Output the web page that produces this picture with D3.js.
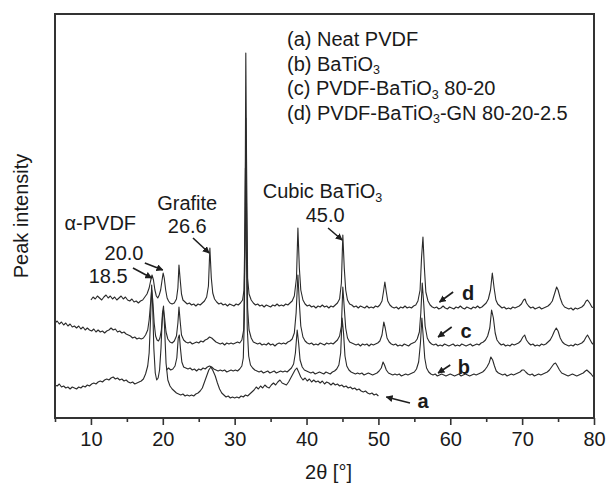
<!DOCTYPE html>
<html><head><meta charset="utf-8">
<script src="https://cdn.jsdelivr.net/npm/d3@7"></script>
<style>body{margin:0;background:#fff}svg{display:block}text{font-family:"Liberation Sans",Arial,sans-serif;fill:#1a1a1a}</style>
</head><body><svg id="c" width="611" height="484"></svg>
<script>
// ---- data: [2theta, intensity (a.u., curves stacked with offsets)] ----
const curveD = [[10.0,118],[10.3,121],[10.6,119],[10.9,122],[11.2,120],[11.5,118],[11.8,121],[12.1,123],[12.4,120],[12.7,122],[13.0,119],[13.3,121],[13.6,118],[13.9,120],[14.2,122],[14.5,119],[14.8,121],[15.1,118],[15.4,117],[15.7,119],[16.0,116],[16.3,117],[16.6,115],[16.9,117],[17.2,118],[17.5,121],[17.8,124],[18.1,130],[18.3,137],[18.5,143],[18.7,138],[18.9,128],[19.1,122],[19.3,120],[19.5,123],[19.7,128],[19.9,138],[20.05,145],[20.2,140],[20.4,128],[20.6,120],[20.8,117],[21.0,115],[21.3,114],[21.6,115],[21.9,119],[22.1,130],[22.25,153],[22.4,140],[22.6,124],[22.8,118],[23.1,116],[23.4,114],[23.7,115],[24.0,113],[24.3,114],[24.6,112],[24.9,114],[25.2,113],[25.5,115],[25.8,117],[26.1,121],[26.35,132],[26.55,170],[26.75,140],[26.95,125],[27.2,119],[27.5,116],[27.8,114],[28.1,115],[28.4,113],[28.7,114],[29.0,112],[29.3,114],[29.6,113],[29.9,112],[30.2,114],[30.5,113],[30.8,115],[31.1,118],[31.3,128],[31.45,200],[31.55,365],[31.65,260],[31.8,140],[32.0,124],[32.3,118],[32.6,115],[32.9,113],[33.2,114],[33.5,112],[33.8,113],[34.1,111],[34.4,113],[34.7,112],[35.0,111],[35.3,113],[35.6,112],[35.9,114],[36.2,112],[36.5,113],[36.8,112],[37.1,114],[37.4,113],[37.7,115],[38.0,117],[38.3,122],[38.6,140],[38.8,190],[39.0,150],[39.2,128],[39.5,118],[39.8,114],[40.1,112],[40.4,113],[40.7,111],[41.0,112],[41.3,110],[41.6,112],[41.9,111],[42.2,113],[42.5,111],[42.8,112],[43.1,110],[43.4,112],[43.7,111],[44.0,113],[44.3,115],[44.6,119],[44.85,135],[45.05,183],[45.25,150],[45.45,128],[45.7,118],[46.0,114],[46.3,113],[46.6,111],[46.9,112],[47.2,110],[47.5,112],[47.8,111],[48.1,110],[48.4,112],[48.7,110],[49.0,111],[49.3,110],[49.6,112],[49.9,111],[50.2,113],[50.5,117],[50.7,126],[50.9,136],[51.1,126],[51.3,117],[51.6,113],[51.9,111],[52.2,110],[52.5,111],[52.8,109],[53.1,111],[53.4,110],[53.7,112],[54.0,110],[54.3,111],[54.6,110],[54.9,112],[55.2,113],[55.5,117],[55.8,128],[56.0,160],[56.2,181],[56.4,150],[56.6,126],[56.9,117],[57.2,113],[57.5,111],[57.8,110],[58.1,111],[58.4,109],[58.7,110],[59.0,112],[59.3,110],[59.6,109],[59.9,111],[60.2,110],[60.5,109],[60.8,111],[61.1,110],[61.4,112],[61.7,110],[62.0,109],[62.3,111],[62.6,110],[62.9,109],[63.2,111],[63.5,110],[63.8,112],[64.1,110],[64.4,111],[64.7,113],[65.0,115],[65.3,119],[65.6,128],[65.85,145],[66.1,130],[66.35,118],[66.6,114],[66.9,112],[67.2,110],[67.5,111],[67.8,109],[68.1,110],[68.4,109],[68.7,111],[69.0,110],[69.3,111],[69.6,112],[69.9,114],[70.2,118],[70.4,119],[70.6,115],[70.9,112],[71.2,110],[71.5,111],[71.8,109],[72.1,110],[72.4,111],[72.7,109],[73.0,110],[73.3,111],[73.6,112],[73.9,114],[74.2,117],[74.5,124],[74.8,131],[75.0,128],[75.3,120],[75.6,114],[75.9,111],[76.2,110],[76.5,109],[76.8,110],[77.1,108],[77.4,110],[77.7,109],[78.0,110],[78.3,111],[78.6,113],[78.9,117],[79.1,118],[79.4,115],[79.7,111],[80.0,110]];

const curveC = [[5.0,95],[5.3,97],[5.6,94],[5.9,96],[6.2,93],[6.5,95],[6.8,92],[7.1,94],[7.4,91],[7.7,92],[8.0,90],[8.3,92],[8.6,89],[8.9,91],[9.2,88],[9.5,90],[9.8,88],[10.1,87],[10.4,89],[10.7,86],[11.0,88],[11.3,86],[11.6,87],[11.9,85],[12.2,87],[12.5,88],[12.8,90],[13.1,88],[13.4,89],[13.7,86],[14.0,87],[14.3,85],[14.6,86],[14.9,84],[15.2,83],[15.5,82],[15.8,80],[16.1,81],[16.4,79],[16.7,80],[17.0,79],[17.3,80],[17.6,83],[17.9,88],[18.1,98],[18.3,115],[18.45,128],[18.6,118],[18.8,95],[19.0,82],[19.2,78],[19.4,77],[19.6,80],[19.8,88],[20.0,105],[20.1,108],[20.25,100],[20.45,86],[20.7,79],[21.0,76],[21.3,75],[21.6,77],[21.9,82],[22.1,95],[22.25,111],[22.4,98],[22.6,83],[22.9,78],[23.2,76],[23.5,75],[23.8,76],[24.1,74],[24.4,75],[24.7,76],[25.0,75],[25.3,77],[25.6,76],[25.9,78],[26.2,79],[26.5,81],[26.8,80],[27.1,78],[27.4,76],[27.7,75],[28.0,74],[28.3,75],[28.6,73],[28.9,75],[29.2,74],[29.5,75],[29.8,74],[30.1,75],[30.4,76],[30.7,75],[31.0,78],[31.25,88],[31.45,180],[31.55,300],[31.65,210],[31.8,110],[32.0,88],[32.3,80],[32.6,76],[32.9,75],[33.2,74],[33.5,75],[33.8,73],[34.1,74],[34.4,73],[34.7,75],[35.0,73],[35.3,74],[35.6,72],[35.9,74],[36.2,75],[36.5,74],[36.8,75],[37.1,74],[37.4,76],[37.7,77],[38.0,79],[38.3,85],[38.55,105],[38.8,143],[39.0,115],[39.2,92],[39.5,81],[39.8,77],[40.1,75],[40.4,74],[40.7,75],[41.0,73],[41.3,74],[41.6,73],[41.9,75],[42.2,74],[42.5,73],[42.8,75],[43.1,74],[43.4,75],[43.7,74],[44.0,76],[44.3,78],[44.6,82],[44.85,92],[45.05,131],[45.25,110],[45.45,90],[45.7,80],[46.0,76],[46.3,75],[46.6,74],[46.9,73],[47.2,74],[47.5,72],[47.8,74],[48.1,73],[48.4,74],[48.7,72],[49.0,74],[49.3,73],[49.6,74],[49.9,75],[50.2,77],[50.5,83],[50.75,96],[50.95,90],[51.2,80],[51.5,76],[51.8,74],[52.1,73],[52.4,74],[52.7,72],[53.0,73],[53.3,72],[53.6,74],[53.9,73],[54.2,72],[54.5,74],[54.8,75],[55.1,76],[55.4,79],[55.7,86],[55.9,105],[56.1,135],[56.3,115],[56.5,92],[56.8,80],[57.1,76],[57.4,74],[57.7,73],[58.0,74],[58.3,72],[58.6,73],[58.9,72],[59.2,74],[59.5,73],[59.8,72],[60.1,73],[60.4,74],[60.7,72],[61.0,73],[61.3,72],[61.6,74],[61.9,73],[62.2,72],[62.5,73],[62.8,74],[63.1,72],[63.4,73],[63.7,74],[64.0,73],[64.3,75],[64.6,76],[64.9,78],[65.2,82],[65.5,90],[65.75,108],[66.0,100],[66.25,85],[66.5,78],[66.8,75],[67.1,73],[67.4,74],[67.7,72],[68.0,73],[68.3,72],[68.6,74],[68.9,73],[69.2,74],[69.5,75],[69.8,77],[70.1,81],[70.35,83],[70.6,78],[70.9,75],[71.2,73],[71.5,74],[71.8,72],[72.1,73],[72.4,72],[72.7,74],[73.0,73],[73.3,74],[73.6,76],[73.9,78],[74.2,82],[74.5,87],[74.75,90],[75.0,87],[75.3,80],[75.6,76],[75.9,74],[76.2,73],[76.5,72],[76.8,73],[77.1,72],[77.4,74],[77.7,73],[78.0,74],[78.3,75],[78.6,77],[78.9,81],[79.1,83],[79.4,79],[79.7,75],[80.0,73]];

const curveB = [[20.5,48],[20.8,50],[21.1,48],[21.4,49],[21.7,52],[21.95,60],[22.15,80],[22.3,83],[22.45,70],[22.65,56],[22.9,51],[23.2,50],[23.5,49],[23.8,50],[24.1,48],[24.4,49],[24.7,47],[25.0,49],[25.3,48],[25.6,50],[25.9,49],[26.2,51],[26.5,52],[26.8,51],[27.1,49],[27.4,48],[27.7,47],[28.0,48],[28.3,47],[28.6,48],[28.9,46],[29.2,47],[29.5,48],[29.8,47],[30.1,48],[30.4,47],[30.7,49],[31.0,52],[31.2,60],[31.35,100],[31.5,250],[31.6,190],[31.75,90],[31.95,62],[32.2,53],[32.5,50],[32.8,48],[33.1,47],[33.4,46],[33.7,47],[34.0,45],[34.3,46],[34.6,47],[34.9,45],[35.2,46],[35.5,47],[35.8,45],[36.1,46],[36.4,47],[36.7,46],[37.0,47],[37.3,46],[37.6,48],[37.9,50],[38.2,54],[38.45,65],[38.7,88],[38.9,75],[39.1,58],[39.4,51],[39.7,48],[40.0,47],[40.3,46],[40.6,45],[40.9,46],[41.2,44],[41.5,45],[41.8,46],[42.1,45],[42.4,44],[42.7,46],[43.0,45],[43.3,44],[43.6,46],[43.9,47],[44.2,49],[44.5,53],[44.75,65],[44.95,100],[45.15,85],[45.35,62],[45.6,52],[45.9,48],[46.2,46],[46.5,45],[46.8,44],[47.1,45],[47.4,44],[47.7,45],[48.0,43],[48.3,44],[48.6,45],[48.9,44],[49.2,43],[49.5,44],[49.8,45],[50.1,47],[50.4,50],[50.65,56],[50.85,53],[51.1,48],[51.4,45],[51.7,44],[52.0,43],[52.3,44],[52.6,43],[52.9,44],[53.2,42],[53.5,43],[53.8,44],[54.1,43],[54.4,44],[54.7,45],[55.0,46],[55.3,49],[55.6,56],[55.85,75],[56.05,100],[56.25,80],[56.45,60],[56.7,50],[57.0,46],[57.3,44],[57.6,43],[57.9,44],[58.2,42],[58.5,43],[58.8,44],[59.1,43],[59.4,42],[59.7,43],[60.0,44],[60.3,43],[60.6,42],[60.9,43],[61.2,44],[61.5,42],[61.8,43],[62.1,44],[62.4,43],[62.7,42],[63.0,43],[63.3,44],[63.6,43],[63.9,44],[64.2,45],[64.5,46],[64.8,48],[65.1,51],[65.4,55],[65.65,61],[65.9,58],[66.15,52],[66.4,47],[66.7,45],[67.0,44],[67.3,43],[67.6,44],[67.9,42],[68.2,43],[68.5,44],[68.8,43],[69.1,44],[69.4,45],[69.7,46],[70.0,48],[70.25,48],[70.5,46],[70.8,44],[71.1,43],[71.4,44],[71.7,42],[72.0,43],[72.3,44],[72.6,43],[72.9,44],[73.2,45],[73.5,46],[73.8,48],[74.1,51],[74.4,54],[74.65,55],[74.9,52],[75.2,48],[75.5,45],[75.8,44],[76.1,43],[76.4,42],[76.7,43],[77.0,44],[77.3,43],[77.6,42],[77.9,43],[78.2,44],[78.5,45],[78.8,47],[79.0,48],[79.3,46],[79.6,44],[79.8,42],[80.0,41]];

const curveA = [[5.0,33],[5.3,32],[5.6,34],[5.9,31],[6.2,32],[6.5,30],[6.8,31],[7.1,29],[7.4,31],[7.7,30],[8.0,29],[8.3,31],[8.6,30],[8.9,32],[9.2,31],[9.5,33],[9.8,32],[10.1,34],[10.4,35],[10.7,34],[11.0,36],[11.3,37],[11.6,36],[11.9,38],[12.2,39],[12.5,38],[12.8,40],[13.1,41],[13.4,39],[13.7,40],[14.0,38],[14.3,39],[14.6,37],[14.9,38],[15.2,36],[15.5,35],[15.8,36],[16.1,34],[16.4,35],[16.7,36],[17.0,37],[17.3,39],[17.6,44],[17.9,52],[18.1,65],[18.3,100],[18.45,133],[18.6,110],[18.75,70],[18.95,45],[19.15,38],[19.35,40],[19.55,48],[19.75,70],[19.95,105],[20.1,112],[20.25,90],[20.45,55],[20.7,38],[21.0,32],[21.3,29],[21.6,27],[21.9,25],[22.2,24],[22.5,23],[22.8,24],[23.1,22],[23.4,23],[23.7,22],[24.0,23],[24.3,22],[24.6,24],[24.9,25],[25.2,27],[25.5,30],[25.8,36],[26.1,42],[26.4,48],[26.7,51],[27.0,47],[27.3,42],[27.6,35],[27.9,29],[28.2,25],[28.5,23],[28.8,21],[29.1,22],[29.4,20],[29.7,21],[30.0,20],[30.3,21],[30.6,20],[30.9,22],[31.2,21],[31.5,23],[31.8,22],[32.1,24],[32.4,26],[32.7,28],[33.0,31],[33.3,29],[33.6,32],[33.9,30],[34.2,33],[34.5,31],[34.8,30],[35.1,33],[35.4,35],[35.7,33],[36.0,36],[36.3,38],[36.6,35],[36.9,34],[37.2,33],[37.5,36],[37.8,40],[38.1,44],[38.4,48],[38.65,50],[38.9,46],[39.2,41],[39.5,38],[39.8,40],[40.1,37],[40.4,39],[40.7,36],[41.0,38],[41.3,36],[41.6,37],[41.9,35],[42.2,37],[42.5,34],[42.8,36],[43.1,35],[43.4,33],[43.7,35],[44.0,33],[44.3,34],[44.6,32],[44.9,33],[45.2,31],[45.5,32],[45.8,30],[46.1,31],[46.4,29],[46.7,30],[47.0,28],[47.3,29],[47.6,27],[47.9,26],[48.2,27],[48.5,25],[48.8,24],[49.1,25],[49.4,23],[49.7,24],[50.0,22]];

const xTicksMajor = [10, 20, 30, 40, 50, 60, 70, 80];
const xTicksMinor = [5, 15, 25, 35, 45, 55, 65, 75];
const xDomain = [5, 80];
const yDomain = [0, 404];
const xTitle = "2θ [°]";
const yTitle = "Peak intensity";
const legendLines = [
  ["(a) Neat PVDF"],
  ["(b) BaTiO", "3", ""],
  ["(c) PVDF-BaTiO", "3", " 80-20"],
  ["(d) PVDF-BaTiO", "3", "-GN 80-20-2.5"]
];
// peak annotations: [text parts, anchor 2θ, anchor intensity, text-anchor]
const annotations = [
  [["α-PVDF"], 11.3, 188, "middle"],
  [["Grafite"], 23.4, 208, "middle"],
  [["26.6"], 23.4, 185, "middle"],
  [["20.0"], 14.6, 158, "middle"],
  [["18.5"], 12.4, 135, "middle"],
  [["Cubic BaTiO", "3", ""], 33.9, 220, "start"],
  [["45.0"], 42.6, 196, "middle"]
];
// arrows: [from 2θ, from I, to 2θ, to I]
const peakArrows = [[15.85,150,18.45,140],[17.5,155,20.0,148],[24.2,180,26.45,165],[43.0,190,44.95,178]];
// curve tags: [label, text 2θ, text I, arrow from 2θ, from I, to 2θ, to I]
const curveTags = [
  ["d", 62.5, 118, 60.4, 126, 58.5, 116],
  ["c", 62.2, 80, 60.2, 91, 58.3, 81],
  ["b", 61.9, 44, 60.0, 53, 58.3, 45],
  ["a", 56.2, 10, 54.4, 15, 51.1, 21]
];

// ---- drawing ----
const svg = d3.select("#c");
const L = 55, R = 594, T = 14, B = 418;
const x = d3.scaleLinear().domain(xDomain).range([L, R]);
const y = d3.scaleLinear().domain(yDomain).range([B, T]);
const ink = "#1e1e1e";

svg.append("defs").append("marker").attr("id","ah").attr("viewBox","0 0 10 10")
  .attr("refX",9).attr("refY",5).attr("markerWidth",7).attr("markerHeight",7)
  .attr("markerUnits","userSpaceOnUse").attr("orient","auto")
  .append("path").attr("d","M0,0 L10,5 L0,10 z").attr("fill",ink);

const line = d3.line().x(d => x(d[0])).y(d => y(d[1]));
[curveA, curveB, curveC, curveD].forEach(c => {
  svg.append("path").datum(c).attr("d", line).attr("fill","none")
    .attr("stroke","#2a2a2a").attr("stroke-width",1.1).attr("stroke-linejoin","round");
});

// frame
svg.append("rect").attr("x",L).attr("y",T).attr("width",R-L).attr("height",B-T)
  .attr("fill","none").attr("stroke","#333").attr("stroke-width",2);

// x axis
const ax = svg.append("g").attr("transform",`translate(0,${B})`)
  .call(d3.axisBottom(x).tickValues(xTicksMajor).tickSize(7).tickPadding(7).tickFormat(d3.format("d")));
ax.select(".domain").remove();
ax.selectAll("line").attr("stroke","#333").attr("stroke-width",1.6);
ax.selectAll("text").attr("font-size",20).attr("font-family","Liberation Sans, Arial, sans-serif").attr("fill","#1a1a1a");
const axm = svg.append("g").attr("transform",`translate(0,${B})`)
  .call(d3.axisBottom(x).tickValues(xTicksMinor).tickSize(4).tickFormat(""));
axm.select(".domain").remove();
axm.selectAll("line").attr("stroke","#333").attr("stroke-width",1.6);

svg.append("text").attr("x",(L+R)/2+4).attr("y",479).attr("text-anchor","middle")
  .attr("font-size",20).text(xTitle);
svg.append("text").attr("transform",`translate(28,${(T+B)/2}) rotate(-90)`)
  .attr("text-anchor","middle").attr("font-size",20).text(yTitle);

function richText(sel, parts){
  sel.append("tspan").text(parts[0]);
  if (parts.length > 1) {
    sel.append("tspan").attr("font-size",12.5).attr("dy",3.5).text(parts[1]);
    sel.append("tspan").attr("dy",-3.5).text(parts[2]);
  }
}
// legend
legendLines.forEach((p,i) => {
  const t = svg.append("text").attr("x",287).attr("y",46 + i*24.5).attr("font-size",20);
  richText(t, p);
});
// annotations
annotations.forEach(a => {
  const t = svg.append("text").attr("x",x(a[1])).attr("y",y(a[2]))
    .attr("text-anchor",a[3]).attr("font-size",20);
  richText(t, a[0]);
});
peakArrows.forEach(a => {
  svg.append("line").attr("x1",x(a[0])).attr("y1",y(a[1])).attr("x2",x(a[2])).attr("y2",y(a[3]))
    .attr("stroke",ink).attr("stroke-width",1.6).attr("marker-end","url(#ah)");
});
curveTags.forEach(c => {
  svg.append("text").attr("x",x(c[1])).attr("y",y(c[2])).attr("text-anchor","middle")
    .attr("font-size",20).attr("font-weight","bold").text(c[0]);
  svg.append("line").attr("x1",x(c[3])).attr("y1",y(c[4])).attr("x2",x(c[5])).attr("y2",y(c[6]))
    .attr("stroke",ink).attr("stroke-width",1.6).attr("marker-end","url(#ah)");
});
</script></body></html>
